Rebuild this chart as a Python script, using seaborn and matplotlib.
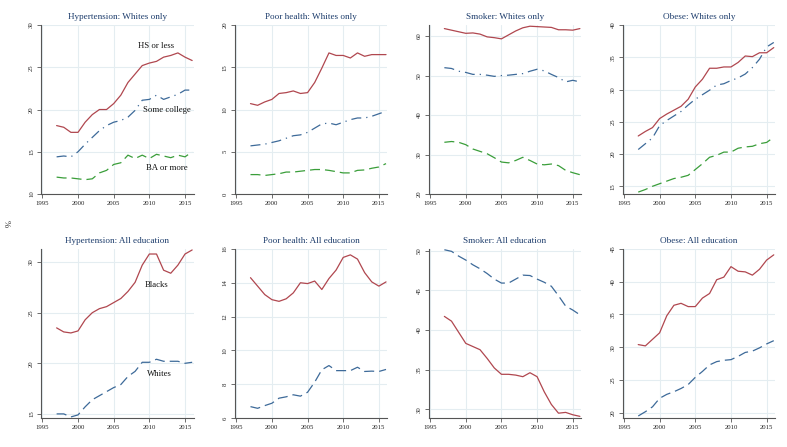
import numpy as np
import pandas as pd
import matplotlib
matplotlib.use("Agg")
import matplotlib.pyplot as plt
import seaborn as sns

DPI = 100

years = list(range(1997, 2017))

# Whites only, by education
hyp_hs = [18.1, 17.9, 17.3, 17.3, 18.5, 19.4, 20.0, 20.0, 20.7, 21.7,
          23.2, 24.2, 25.2, 25.5, 25.7, 26.2, 26.4, 26.7, 26.2, 25.8]
hyp_sc = [14.4, 14.5, 14.4, 15.0, 15.9, 16.7, 17.5, 18.1, 18.5, 18.7,
          19.1, 19.9, 21.1, 21.2, 21.7, 21.2, 21.5, 21.8, 22.3, 22.3]
hyp_ba = [12.0, 11.9, 11.9, 11.8, 11.7, 11.8, 12.5, 12.8, 13.5, 13.7,
          14.6, 14.2, 14.6, 14.2, 14.7, 14.5, 14.3, 14.6, 14.4, 15.0]

poor_hs = [10.7, 10.5, 10.9, 11.2, 11.9, 12.0, 12.2, 11.9, 12.0, 13.2,
           14.9, 16.7, 16.4, 16.4, 16.1, 16.7, 16.3, 16.5, 16.5, 16.5]
poor_sc = [5.7, 5.8, 5.9, 6.1, 6.3, 6.6, 6.9, 7.0, 7.3, 7.8,
           8.3, 8.4, 8.2, 8.5, 8.8, 9.0, 9.0, 9.2, 9.5, 9.8]
poor_ba = [2.3, 2.3, 2.2, 2.3, 2.4, 2.6, 2.6, 2.7, 2.8, 2.9,
           2.9, 2.8, 2.65, 2.5, 2.5, 2.8, 2.85, 3.05, 3.2, 3.6]

smk_hs = [61.9, 61.5, 61.1, 60.7, 60.8, 60.5, 59.8, 59.6, 59.3, 60.3,
          61.3, 62.1, 62.5, 62.4, 62.3, 62.2, 61.6, 61.6, 61.5, 61.9]
smk_sc = [52.0, 51.8, 51.1, 50.8, 50.3, 50.3, 50.1, 49.8, 50.0, 50.1,
          50.3, 50.5, 51.1, 51.6, 51.2, 50.3, 49.5, 48.4, 48.8, 48.4]
smk_ba = [33.1, 33.3, 33.1, 32.5, 31.4, 30.8, 30.2, 29.2, 28.1, 27.9,
          28.5, 29.3, 28.5, 27.6, 27.4, 27.6, 27.2, 26.0, 25.4, 24.9]

obs_hs = [22.8, 23.5, 24.1, 25.5, 26.2, 26.8, 27.4, 28.5, 30.4, 31.6,
          33.3, 33.3, 33.5, 33.5, 34.2, 35.2, 35.1, 35.7, 35.7, 36.5]
obs_sc = [20.7, 21.6, 22.5, 24.4, 25.2, 25.9, 26.6, 27.6, 28.5, 29.2,
          29.9, 30.7, 30.9, 31.4, 31.8, 32.4, 33.4, 34.7, 36.6, 37.3]
obs_ba = [14.1, 14.5, 15.0, 15.4, 15.8, 16.2, 16.4, 16.7, 17.6, 18.5,
          19.5, 19.8, 20.3, 20.3, 20.9, 21.1, 21.2, 21.6, 21.8, 22.6]

# All education, blacks vs whites
hyp_blk = [23.5, 23.1, 23.0, 23.2, 24.3, 25.0, 25.4, 25.6, 26.0, 26.4,
           27.1, 28.0, 29.7, 30.8, 30.8, 29.2, 28.9, 29.7, 30.8, 31.2]
hyp_wht = [15.0, 15.0, 14.7, 14.9, 15.7, 16.4, 16.8, 17.2, 17.6, 17.9,
           18.7, 19.2, 20.1, 20.1, 20.4, 20.2, 20.2, 20.2, 20.0, 20.1]

poor_blk = [14.3, 13.8, 13.3, 13.0, 12.9, 13.05, 13.4, 14.0, 13.95, 14.1,
            13.6, 14.25, 14.75, 15.5, 15.65, 15.4, 14.6, 14.05, 13.8, 14.05]
poor_wht = [6.67, 6.57, 6.73, 6.87, 7.17, 7.25, 7.37, 7.29, 7.52, 8.12,
            8.85, 9.1, 8.8, 8.8, 8.8, 9.0, 8.75, 8.77, 8.75, 8.87]

smk_blk = [41.7, 41.1, 39.7, 38.3, 37.9, 37.5, 36.4, 35.2, 34.4, 34.4,
           34.3, 34.1, 34.6, 34.1, 32.2, 30.6, 29.5, 29.6, 29.3, 29.1]
smk_wht = [50.1, 49.9, 49.3, 48.8, 48.2, 47.7, 47.1, 46.4, 45.9, 45.9,
           46.4, 46.9, 46.85, 46.4, 46.0, 45.5, 44.3, 43.0, 42.5, 41.9]

obs_blk = [30.4, 30.2, 31.2, 32.2, 34.8, 36.4, 36.7, 36.2, 36.2, 37.5,
           38.2, 40.3, 40.7, 42.3, 41.6, 41.5, 41.0, 41.9, 43.3, 44.1]
obs_wht = [19.5, 20.15, 20.9, 22.2, 22.8, 23.2, 23.7, 24.3, 25.4, 26.3,
           27.3, 27.8, 28.0, 28.1, 28.6, 29.2, 29.4, 29.9, 30.5, 31.0]

RED = "#b0474f"
BLUE = "#3d6a99"
GREEN = "#3a9e3a"
NAVY = "#1a3a6a"
GRID = "#e4edf1"

SOLID = None
DASHDOT = (8, 4, 1, 4)
DASH = (8, 4)

panels = [
    ("Hypertension: Whites only", [(hyp_hs, RED, SOLID), (hyp_sc, BLUE, DASHDOT), (hyp_ba, GREEN, DASH)],
     (10, 30), [10, 15, 20, 25, 30],
     [("HS or less", 2011.0, 27.5), ("Some college", 2012.4, 19.9), ("BA or more", 2012.4, 13.1)]),
    ("Poor health: Whites only", [(poor_hs, RED, SOLID), (poor_sc, BLUE, DASHDOT), (poor_ba, GREEN, DASH)],
     (0, 20), [0, 5, 10, 15, 20], []),
    ("Smoker: Whites only", [(smk_hs, RED, SOLID), (smk_sc, BLUE, DASHDOT), (smk_ba, GREEN, DASH)],
     (20, 62.8), [20, 30, 40, 50, 60], []),
    ("Obese: Whites only", [(obs_hs, RED, SOLID), (obs_sc, BLUE, DASHDOT), (obs_ba, GREEN, DASH)],
     (13.8, 40), [15, 20, 25, 30, 35, 40], []),
    ("Hypertension: All education", [(hyp_blk, RED, SOLID), (hyp_wht, BLUE, DASH)],
     (14.6, 31.3), [15, 20, 25, 30],
     [("Blacks", 2011.0, 27.7), ("Whites", 2011.4, 18.9)]),
    ("Poor health: All education", [(poor_blk, RED, SOLID), (poor_wht, BLUE, DASH)],
     (6, 16), [6, 8, 10, 12, 14, 16], []),
    ("Smoker: All education", [(smk_blk, RED, SOLID), (smk_wht, BLUE, DASH)],
     (28.9, 50.2), [30, 35, 40, 45, 50], []),
    ("Obese: All education", [(obs_blk, RED, SOLID), (obs_wht, BLUE, DASH)],
     (19.2, 45), [20, 25, 30, 35, 40, 45], []),
]

sns.set_theme(style="white")
plt.rcParams["font.family"] = ["Liberation Serif", "DejaVu Serif"]

fig, axes = plt.subplots(2, 4, figsize=(7.87, 4.47), dpi=DPI)
fig.subplots_adjust(left=0.052, right=0.985, top=0.944, bottom=0.065, wspace=0.27, hspace=0.325)

for ax, (title, series, ylim, yticks, labels) in zip(axes.flat, panels):
    for vals, color, dash in series:
        df = pd.DataFrame({"year": years, "value": vals})
        sns.lineplot(data=df, x="year", y="value", ax=ax, color=color, linewidth=0.9)
        if dash is not None:
            ax.lines[-1].set_dashes(dash)
    ax.set_xlim(1994.8, 2016.2)
    ax.set_ylim(*ylim)
    ax.set_xticks([1995, 2000, 2005, 2010, 2015])
    ax.set_yticks(yticks)
    ax.grid(True, color=GRID, linewidth=0.8)
    ax.set_axisbelow(True)
    for s in ["top", "right"]:
        ax.spines[s].set_visible(False)
    for s in ["left", "bottom"]:
        ax.spines[s].set_color("#555555")
        ax.spines[s].set_linewidth(0.8)
    ax.tick_params(axis="both", which="major", direction="out", length=3, width=0.6,
                   color="#555555", labelsize=4.9, pad=2, bottom=True, left=True)
    for lab in ax.get_yticklabels():
        lab.set_rotation(90)
        lab.set_va("center")
    ax.set_xlabel(None)
    ax.set_ylabel(None)
    ax.set_title(title, color=NAVY, fontsize=6.6, pad=4)
    for text, tx, ty in labels:
        ax.text(tx, ty, text, fontsize=6.3, ha="center", va="center", color="#111111")

fig.text(0.012, 0.5, "%", rotation=90, fontsize=6, ha="center", va="center")

plt.savefig("out.png", dpi=DPI)
plt.close()
